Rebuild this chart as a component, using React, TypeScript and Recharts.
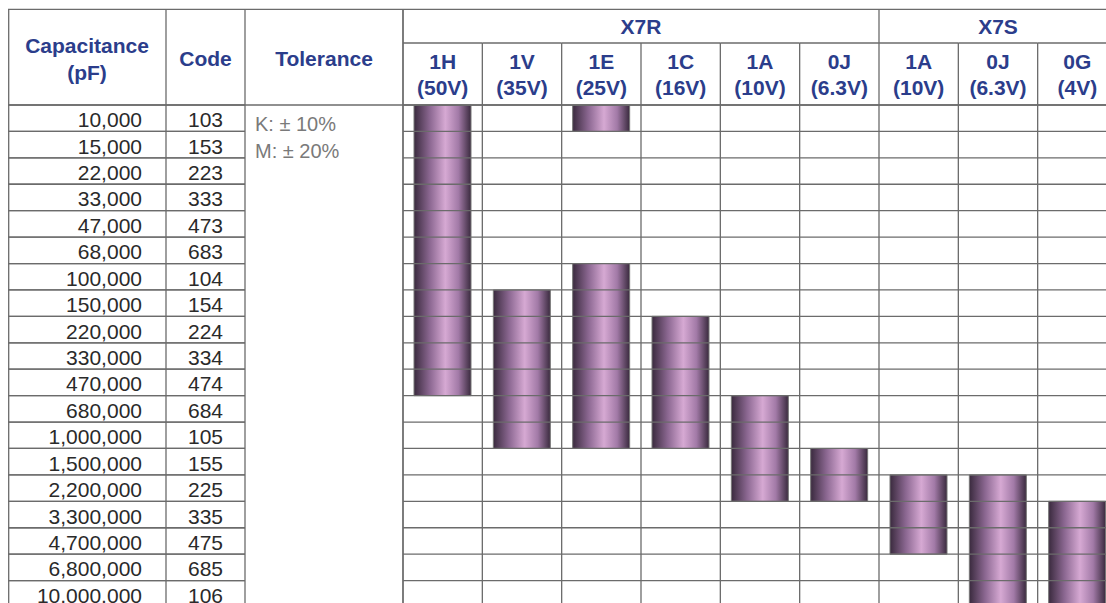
import { Bar, BarChart, ReferenceLine, XAxis, YAxis } from 'recharts'

const capacitances = [
  '10,000', '15,000', '22,000', '33,000', '47,000', '68,000', '100,000', '150,000', '220,000', '330,000',
  '470,000', '680,000', '1,000,000', '1,500,000', '2,200,000', '3,300,000', '4,700,000', '6,800,000', '10,000,000',
]
const codes = ['103', '153', '223', '333', '473', '683', '104', '154', '224', '334', '474', '684', '105', '155', '225', '335', '475', '685', '106']
const tolerances = ['K: ± 10%', 'M: ± 20%']

const groupNames = ['X7R', 'X7S']
const groupSizes = [6, 3]
const voltageCodes = ['1H', '1V', '1E', '1C', '1A', '0J', '1A', '0J', '0G']
const voltageLabels = ['(50V)', '(35V)', '(25V)', '(16V)', '(10V)', '(6.3V)', '(10V)', '(6.3V)', '(4V)']

// row index (in capacitances) where each available range starts / ends, inclusive
const firstStart = [0, 7, 0, 8, 11, 13, 14, 14, 15]
const firstEnd = [10, 12, 0, 12, 14, 14, 16, 18, 18]
const secondStart: (number | null)[] = [null, null, 6, null, null, null, null, null, null]
const secondEnd: (number | null)[] = [null, null, 12, null, null, null, null, null, null]

const data = voltageCodes.map((code, i) => ({
  id: `${i}-${code}`,
  offset: firstStart[i],
  first: firstEnd[i] - firstStart[i] + 1,
  gap: secondStart[i] != null ? (secondStart[i] as number) - firstEnd[i] - 1 : 0,
  second: secondStart[i] != null ? (secondEnd[i] as number) - (secondStart[i] as number) + 1 : 0,
}))

const W = 1109
const H = 599
const LEFT_W = 395
const TOP = 97
const colW = (W - LEFT_W) / voltageCodes.length
const rowH = (H - TOP) / capacitances.length

const LINE = '#6b6b6b'
const BLUE = '#2b3d8b'
const FONT = 'Arial, "Liberation Sans", sans-serif'

// first column index of each group
const groupStarts = groupSizes.map((_, i) => groupSizes.slice(0, i).reduce((a, b) => a + b, 0))
const rowTicks = capacitances.map((_, i) => i + 0.5)
const rowLines = Array.from({ length: capacitances.length + 1 }, (_, i) => i)

function RowTick({ y, payload }: any) {
  const i = Math.floor(payload.value)
  return (
    <g fontFamily={FONT} fontSize={21}>
      <line x1={0} x2={237} y1={y - rowH / 2} y2={y - rowH / 2} stroke={LINE} strokeWidth={1.3} />
      <line x1={0} x2={237} y1={y + rowH / 2} y2={y + rowH / 2} stroke={LINE} strokeWidth={1.3} />
      <text x={134} y={y + 1.5} textAnchor="end" dominantBaseline="central" fill="#2a2a2a">
        {capacitances[i]}
      </text>
      <text x={197.5} y={y + 1.5} textAnchor="middle" dominantBaseline="central" fill="#2a2a2a">
        {codes[i]}
      </text>
      {tolerances[i] && (
        <text x={247} y={y + 6} fontSize={20} dominantBaseline="central" fill="#7a7a7a">
          {tolerances[i]}
        </text>
      )}
    </g>
  )
}

function VoltageTick({ x, index }: any) {
  const g = groupStarts.indexOf(index)
  const left = x - colW / 2
  return (
    <g fontFamily={FONT} fontSize={21} fontWeight="bold">
      <line x1={left} x2={left} y1={g >= 0 ? 1.3 : 35} y2={TOP} stroke={LINE} strokeWidth={1.3} />
      <line x1={left} x2={left + colW} y1={35} y2={35} stroke={LINE} strokeWidth={1.3} />
      {g >= 0 && (
        <text x={left + (groupSizes[g] * colW) / 2} y={18} textAnchor="middle" dominantBaseline="central" fill={BLUE}>
          {groupNames[g]}
        </text>
      )}
      <text x={x} y={53} textAnchor="middle" dominantBaseline="central" fill={BLUE}>
        {voltageCodes[index]}
      </text>
      <text x={x} y={79} textAnchor="middle" dominantBaseline="central" fill={BLUE}>
        {voltageLabels[index]}
      </text>
    </g>
  )
}

function LeftHeader() {
  return (
    <g fontFamily={FONT} fontSize={21} fontWeight="bold">
      <line x1={0} x2={W} y1={1.3} y2={1.3} stroke={LINE} strokeWidth={1.3} />
      <line x1={0} x2={LEFT_W} y1={TOP} y2={TOP} stroke={LINE} strokeWidth={1.3} />
      <line x1={0.7} x2={0.7} y1={1.3} y2={H} stroke={LINE} strokeWidth={1.3} />
      <line x1={158} x2={158} y1={1.3} y2={H} stroke={LINE} strokeWidth={1.3} />
      <line x1={237} x2={237} y1={1.3} y2={H} stroke={LINE} strokeWidth={1.3} />
      <line x1={LEFT_W} x2={LEFT_W} y1={1.3} y2={TOP} stroke={LINE} strokeWidth={1.3} />
      <text x={79} y={37} textAnchor="middle" dominantBaseline="central" fill={BLUE}>Capacitance</text>
      <text x={79} y={64} textAnchor="middle" dominantBaseline="central" fill={BLUE}>(pF)</text>
      <text x={197.5} y={50} textAnchor="middle" dominantBaseline="central" fill={BLUE}>Code</text>
      <text x={316} y={50} textAnchor="middle" dominantBaseline="central" fill={BLUE}>Tolerance</text>
    </g>
  )
}

export default function App() {
  return (
    <div style={{ position: 'absolute', top: 8, left: 8, width: 1098, height: 595, overflow: 'hidden' }}>
      <BarChart width={W} height={H} data={data} margin={{ top: 35, right: 0, left: 0, bottom: 0 }} barSize={57}>
        <defs>
          <linearGradient id="barGrad" x1="0" y1="0" x2="1" y2="0">
            <stop offset="0%" stopColor="#3a2a3e" />
            <stop offset="28%" stopColor="#8c6892" />
            <stop offset="55%" stopColor="#d6a9d3" />
            <stop offset="78%" stopColor="#a27aa7" />
            <stop offset="100%" stopColor="#3a2a3e" />
          </linearGradient>
        </defs>
        <XAxis
          dataKey="id"
          orientation="top"
          height={62}
          interval={0}
          tickLine={false}
          axisLine={{ stroke: LINE, strokeWidth: 1.3 }}
          tick={<VoltageTick />}
        />
        <YAxis
          type="number"
          domain={[0, capacitances.length]}
          reversed
          width={LEFT_W}
          ticks={rowTicks}
          interval={0}
          tickLine={false}
          axisLine={{ stroke: LINE, strokeWidth: 1.3 }}
          tick={<RowTick />}
        />
        <Bar dataKey="offset" stackId="a" fill="transparent" isAnimationActive={false} />
        <Bar dataKey="first" stackId="a" fill="url(#barGrad)" stroke="#777" strokeWidth={1} isAnimationActive={false} />
        <Bar dataKey="gap" stackId="a" fill="transparent" isAnimationActive={false} />
        <Bar dataKey="second" stackId="a" fill="url(#barGrad)" stroke="#777" strokeWidth={1} isAnimationActive={false} />
        {data.map((d) => (
          <ReferenceLine key={d.id} x={d.id} position="start" stroke={LINE} strokeWidth={1.3} />
        ))}
        {rowLines.map((r) => (
          <ReferenceLine key={`r${r}`} y={r} stroke={LINE} strokeWidth={1.3} />
        ))}
        <LeftHeader />
      </BarChart>
    </div>
  )
}
